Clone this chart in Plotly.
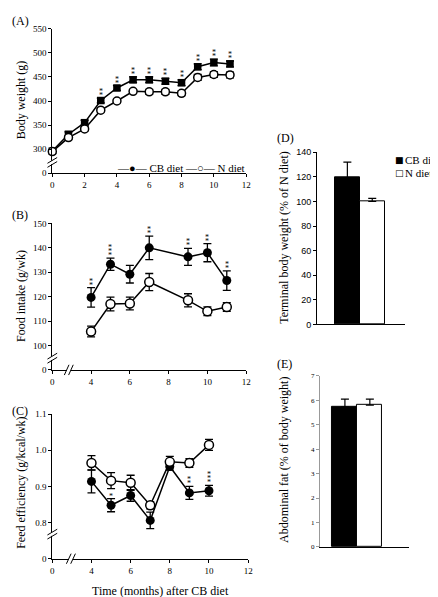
import plotly.graph_objects as go

W, H = 438, 597

# ---------------- data ----------------
# (A) Body weight
months_a = [0, 1, 2, 3, 4, 5, 6, 7, 8, 9, 10, 11]
bw_cb = [296, 331, 355, 401, 427, 444, 444, 441, 438, 471, 480, 477]
bw_cb_err = [4, 5, 5, 5, 5, 6, 6, 6, 6, 6, 7, 6]
bw_n = [295, 324, 342, 381, 400, 420, 419, 419, 416, 449, 455, 454]
bw_n_err = [4, 4, 4, 4, 4, 4, 5, 5, 5, 6, 6, 6]
bw_sig = ["", "", "", "**", "**", "**", "**", "**", "**", "**", "**", "**"]

# (B) Food intake
months_b = [4, 5, 6, 7, 9, 10, 11]
fi_cb = [119.7, 133.3, 129.2, 140.0, 136.3, 138.0, 126.6]
fi_cb_err = [4.0, 2.5, 3.6, 4.8, 3.5, 3.7, 4.0]
fi_n = [105.7, 117.0, 117.2, 126.0, 118.5, 114.0, 115.8]
fi_n_err = [2.2, 2.8, 2.6, 3.5, 2.7, 1.8, 1.8]
fi_sig = ["**", "***", "", "**", "**", "**", "**"]

# (C) Feed efficiency
months_c = [4, 5, 6, 7, 8, 9, 10]
fe_cb = [0.914, 0.848, 0.875, 0.806, 0.955, 0.882, 0.888]
fe_cb_err = [0.032, 0.018, 0.016, 0.023, 0.010, 0.018, 0.015]
fe_n = [0.965, 0.916, 0.910, 0.848, 0.968, 0.965, 1.015]
fe_n_err = [0.020, 0.022, 0.021, 0.010, 0.015, 0.012, 0.015]
fe_sig = ["", "*", "", "", "", "**", "***"]

# (D) Terminal body weight, (E) Abdominal fat
groups = ["CB diet", "N diet"]
tbw = [119.5, 100.0]
tbw_err = [12.5, 2.5]
fat = [5.72, 5.80]
fat_err = [0.33, 0.25]

SERIF = "Liberation Serif"
SANS = "Liberation Sans"


def px_x(p):
    return p / W


def px_y(p):
    return 1 - p / H


fig = go.Figure()

line_style = dict(color="black", width=1.5)
err_style = dict(type="data", thickness=1.3, width=4, color="black")

# ---- A ----
fig.add_trace(go.Scatter(x=months_a, y=bw_cb, mode="lines+markers", showlegend=False,
                         line=line_style, marker=dict(symbol="square", size=7.5, color="black"),
                         error_y=dict(array=bw_cb_err, **err_style), xaxis="x", yaxis="y", cliponaxis=False))
fig.add_trace(go.Scatter(x=months_a, y=bw_n, mode="lines+markers", showlegend=False,
                         line=line_style,
                         marker=dict(symbol="circle", size=8, color="white", line=dict(color="black", width=1.5)),
                         error_y=dict(array=bw_n_err, **err_style), xaxis="x", yaxis="y", cliponaxis=False))

# ---- B ----
fig.add_trace(go.Scatter(x=months_b, y=fi_cb, mode="lines+markers", showlegend=False,
                         line=line_style, marker=dict(symbol="circle", size=9, color="black"),
                         error_y=dict(array=fi_cb_err, **err_style), xaxis="x2", yaxis="y2", cliponaxis=False))
fig.add_trace(go.Scatter(x=months_b, y=fi_n, mode="lines+markers", showlegend=False,
                         line=line_style,
                         marker=dict(symbol="circle", size=9, color="white", line=dict(color="black", width=1.5)),
                         error_y=dict(array=fi_n_err, **err_style), xaxis="x2", yaxis="y2", cliponaxis=False))

# ---- C ----
fig.add_trace(go.Scatter(x=months_c, y=fe_cb, mode="lines+markers", showlegend=False,
                         line=line_style, marker=dict(symbol="circle", size=9, color="black"),
                         error_y=dict(array=fe_cb_err, **err_style), xaxis="x3", yaxis="y3", cliponaxis=False))
fig.add_trace(go.Scatter(x=months_c, y=fe_n, mode="lines+markers", showlegend=False,
                         line=line_style,
                         marker=dict(symbol="circle", size=9, color="white", line=dict(color="black", width=1.5)),
                         error_y=dict(array=fe_n_err, **err_style), xaxis="x3", yaxis="y3", cliponaxis=False))

# ---- D ----
bar_colors = ["black", "white"]
for i, g in enumerate(groups):
    fig.add_trace(go.Bar(x=[i], y=[tbw[i]], name=g, width=1.0, showlegend=False,
                         marker=dict(color=bar_colors[i], line=dict(color="black", width=1)),
                         error_y=dict(type="data", array=[tbw_err[i]], symmetric=False, arrayminus=[0],
                                      thickness=1.2, width=4, color="black"),
                         xaxis="x4", yaxis="y4"))
# ---- E ----
for i, g in enumerate(groups):
    fig.add_trace(go.Bar(x=[i], y=[fat[i]], name=g, width=1.0, showlegend=False,
                         marker=dict(color=bar_colors[i], line=dict(color="black", width=1)),
                         error_y=dict(type="data", array=[fat_err[i]], symmetric=False, arrayminus=[0],
                                      thickness=1.2, width=4, color="black"),
                         xaxis="x5", yaxis="y5"))

annotations = []
shapes = []


# significance marks: each asterisk stacked vertically above the error bar
def add_sig(xs, ys, errs, sig, xa, ya):
    for x, y, e, s in zip(xs, ys, errs, sig):
        for k, ch in enumerate(s):
            annotations.append(dict(x=x, y=y + e, xref=xa, yref=ya, text=ch,
                                    showarrow=False, yanchor="bottom", yshift=-4 + 4 * k,
                                    font=dict(family=SERIF, size=8, color="black")))


add_sig(months_a, bw_cb, bw_cb_err, bw_sig, "x", "y")
add_sig(months_b, fi_cb, fi_cb_err, fi_sig, "x2", "y2")
add_sig(months_c, fe_cb, fe_cb_err, fe_sig, "x3", "y3")

tickfont = dict(family=SERIF, size=9, color="black")
axis_common = dict(showline=True, linecolor="black", linewidth=1, ticks="outside", ticklen=3,
                   tickcolor="black", showgrid=False, zeroline=False, tickfont=tickfont, fixedrange=True)

layout = dict(
    width=W, height=H, margin=dict(l=0, r=0, t=0, b=0),
    paper_bgcolor="white", plot_bgcolor="white", bargap=0, showlegend=False,
    xaxis=dict(domain=[px_x(43), px_x(240)], range=[0, 12], tickvals=[0, 2, 4, 6, 8, 10, 12],
               anchor="y", **axis_common),
    yaxis=dict(domain=[px_y(163), px_y(16)], range=[250, 550],
               tickvals=[250, 300, 350, 400, 450, 500, 550],
               ticktext=["0", "300", "350", "400", "450", "500", "550"], anchor="x", **axis_common),
    xaxis2=dict(domain=[px_x(43), px_x(240)], range=[2, 12], tickvals=[2, 4, 6, 8, 10, 12],
                ticktext=["0", "4", "6", "8", "10", "12"], anchor="y2", **axis_common),
    yaxis2=dict(domain=[px_y(363), px_y(214)], range=[90, 150],
                tickvals=[90, 100, 110, 120, 130, 140, 150],
                ticktext=["0", "100", "110", "120", "130", "140", "150"], anchor="x2", **axis_common),
    xaxis3=dict(domain=[px_x(43), px_x(242)], range=[2, 12], tickvals=[2, 4, 6, 8, 10, 12],
                ticktext=["0", "4", "6", "8", "10", "12"], anchor="y3", **axis_common),
    yaxis3=dict(domain=[px_y(555), px_y(408)], range=[0.7, 1.1],
                tickvals=[0.7, 0.8, 0.9, 1.0, 1.1],
                ticktext=["0", "0.8", "0.9", "1.0", "1.1"], anchor="x3", **axis_common),
    xaxis4=dict(domain=[px_x(312), px_x(401)], range=[-1.22, 2.3], showticklabels=False, ticks="",
                showline=True, linecolor="black", showgrid=False, zeroline=False, anchor="y4", fixedrange=True),
    yaxis4=dict(domain=[px_y(316.7), px_y(141.7)], range=[0, 140], dtick=20, anchor="x4",
                **{**axis_common, "tickfont": dict(family=SANS, size=9, color="black")}),
    xaxis5=dict(domain=[px_x(315), px_x(405)], range=[-1.0, 2.55], showticklabels=False, ticks="",
                showline=True, linecolor="black", showgrid=False, zeroline=False, anchor="y5", fixedrange=True),
    yaxis5=dict(domain=[px_y(543), px_y(369)], range=[0, 7], dtick=1, anchor="x5",
                **{**axis_common, "linecolor": "#999999", "tickcolor": "#999999",
                   "tickfont": dict(family=SERIF, size=7, color="black")}),
)

# legend of panel A (line + marker keys)
annotations.append(dict(x=px_x(241), y=px_y(158), xref="paper", yref="paper",
                        text="\u2014\u25cf\u2014 CB diet \u2014\u25cb\u2014 N diet", showarrow=False,
                        xanchor="right", yanchor="middle", font=dict(family=SERIF, size=11, color="black")))
# legend of panel D: key squares and labels
for sym, lab, y in [("\u25a0", groups[0], 150), ("\u25a1", groups[1], 163)]:
    annotations.append(dict(x=px_x(396), y=px_y(y), xref="paper", yref="paper", text=sym,
                            showarrow=False, xanchor="center", yanchor="middle",
                            font=dict(family="DejaVu Sans", size=9, color="black")))
    annotations.append(dict(x=px_x(399), y=px_y(y), xref="paper", yref="paper", text=lab,
                            showarrow=False, xanchor="left", yanchor="middle",
                            font=dict(family=SERIF, size=11, color="black")))

# panel labels
for txt, x, y in [("(A)", 0, 8), ("(B)", 0, 205), ("(C)", 0, 405), ("(D)", 269, 127), ("(E)", 269, 357)]:
    annotations.append(dict(x=px_x(x), y=px_y(y), xref="paper", yref="paper", text=txt, showarrow=False,
                            xanchor="left", yanchor="middle", font=dict(family=SERIF, size=12, color="black")))

# axis titles
for txt, x, y in [("Body weight (g)", 11, 88), ("Food intake (g/wk)", 11, 288),
                  ("Feed efficiency (g/kcal/wk)", 11, 478),
                  ("Terminal body weight (% of N diet)", 279, 229),
                  ("Abdominal fat (% of body weight)", 279, 455)]:
    annotations.append(dict(x=px_x(x), y=px_y(y), xref="paper", yref="paper", text=txt, showarrow=False,
                            textangle=-90, xanchor="center", yanchor="middle",
                            font=dict(family=SERIF, size=12, color="black")))
annotations.append(dict(x=px_x(153), y=px_y(588), xref="paper", yref="paper", text="Time (months) after CB diet",
                        showarrow=False, xanchor="center", yanchor="middle",
                        font=dict(family=SERIF, size=12, color="black")))


# axis break marks (decorations)
def ybreak(xa, ya, frac):
    shapes.append(dict(type="rect", xref=xa + " domain", yref=ya + " domain", x0=-0.02, x1=0.02,
                       y0=frac - 0.012, y1=frac + 0.012, fillcolor="white", line=dict(width=0), layer="above"))
    for d in (-0.014, 0.014):
        shapes.append(dict(type="line", xref=xa + " domain", yref=ya + " domain",
                           x0=-0.025, x1=0.025, y0=frac + d - 0.02, y1=frac + d + 0.02,
                           line=dict(color="black", width=1), layer="above"))


def xbreak(xa, ya, frac):
    shapes.append(dict(type="rect", xref=xa + " domain", yref=ya + " domain", x0=frac - 0.01, x1=frac + 0.01,
                       y0=-0.03, y1=0.03, fillcolor="white", line=dict(width=0), layer="above"))
    for d in (-0.011, 0.011):
        shapes.append(dict(type="line", xref=xa + " domain", yref=ya + " domain",
                           x0=frac + d - 0.012, x1=frac + d + 0.012, y0=-0.035, y1=0.035,
                           line=dict(color="black", width=1), layer="above"))


ybreak("x", "y", 0.075)
ybreak("x2", "y2", 0.08)
ybreak("x3", "y3", 0.17)
xbreak("x2", "y2", 0.085)
xbreak("x3", "y3", 0.095)

layout["annotations"] = annotations
layout["shapes"] = shapes
fig.update_layout(**layout)

fig.write_html("out.html")
